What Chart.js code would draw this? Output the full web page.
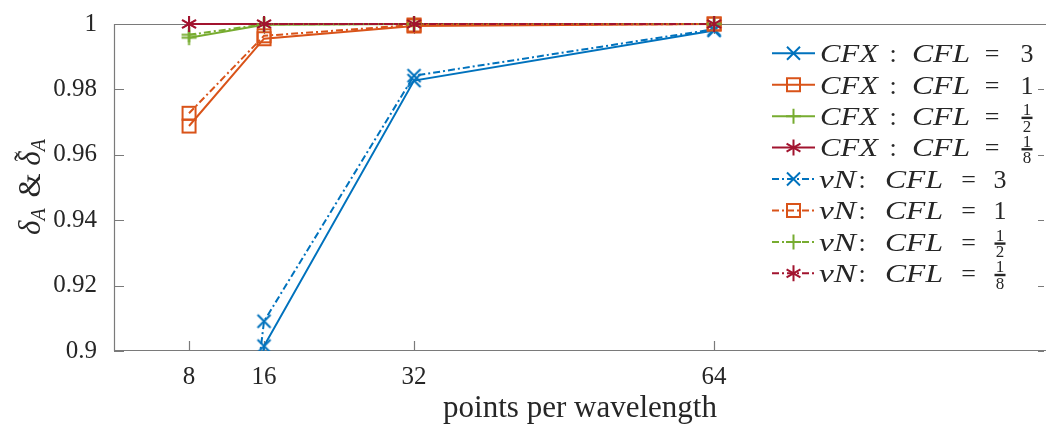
<!DOCTYPE html>
<html lang="en">
<head>
<meta charset="UTF-8">
<title>delta_A vs points per wavelength</title>
<script src="https://cdn.jsdelivr.net/npm/chart.js"></script>
<style>
  html, body { margin: 0; padding: 0; background: #fff; }
  .wrap { width: 1046px; height: 430px; }
</style>
</head>
<body>
<div class="wrap"><canvas id="deltaChart" width="1046" height="430"></canvas></div>
<script>
// points per wavelength (x)
const ppw = [8, 16, 32, 64];

// CFX runs
const cfx3      = [0.700, 0.9015, 0.9827, 0.9980];
const cfx1      = [0.9688, 0.9955, 0.9994, 1.0];
const cfxHalf   = [0.9958, 0.9998, 1.0, 1.0];
const cfxEighth = [1.0, 1.0, 1.0, 1.0];
// von Neumann analysis
const vn3      = [0.720, 0.9091, 0.9842, 0.9984];
const vn1      = [0.9727, 0.9964, 0.9997, 1.0];
const vnHalf   = [0.9967, 0.9999, 1.0, 1.0];
const vnEighth = [1.0, 1.0, 1.0, 1.0];

const yTicks = [0.9, 0.92, 0.94, 0.96, 0.98, 1];
const schemeNames = ['CFX', 'CFX', 'CFX', 'CFX', 'vN', 'vN', 'vN', 'vN'];
const cflLabels = ['3', '1', '1/2', '1/8', '3', '1', '1/2', '1/8'];
const seriesValues = [cfx3, cfx1, cfxHalf, cfxEighth, vn3, vn1, vnHalf, vnEighth];

const palette = ['#0072BD', '#D95319', '#77AC30', '#A2142F'];
const markerKinds = ['x', 'square', 'plus', 'star'];
const markerSizes = { x: 13, square: 13, plus: 15, star: 16 };
const dashDot = [7, 3, 2, 3];
const serif = '"Liberation Serif", "DejaVu Serif", serif';
const textColor = '#262626';

function strokeMarker(g, kind, cx, cy, size) {
  const r = size / 2;
  g.beginPath();
  if (kind === 'x') {
    g.moveTo(cx - r, cy - r); g.lineTo(cx + r, cy + r);
    g.moveTo(cx + r, cy - r); g.lineTo(cx - r, cy + r);
  } else if (kind === 'square') {
    g.rect(cx - r, cy - r, 2 * r, 2 * r);
  } else if (kind === 'plus') {
    g.moveTo(cx - r, cy); g.lineTo(cx + r, cy);
    g.moveTo(cx, cy - r); g.lineTo(cx, cy + r);
  } else if (kind === 'star') {
    for (let k = 0; k < 3; k++) {
      const a = Math.PI / 2 + k * Math.PI / 3;
      g.moveTo(cx + r * Math.cos(a), cy + r * Math.sin(a));
      g.lineTo(cx - r * Math.cos(a), cy - r * Math.sin(a));
    }
  }
  g.stroke();
}

function markerCanvas(kind, color) {
  const size = markerSizes[kind];
  const c = document.createElement('canvas');
  c.width = c.height = size + 4;
  const g = c.getContext('2d');
  g.strokeStyle = color;
  g.lineWidth = 2;
  strokeMarker(g, kind, c.width / 2, c.height / 2, size);
  return c;
}

const datasets = seriesValues.map((vals, i) => {
  const color = palette[i % 4];
  return {
    label: schemeNames[i] + ': CFL = ' + cflLabels[i],
    data: ppw.map((x, j) => ({ x: x, y: vals[j] })),
    borderColor: color,
    backgroundColor: color,
    borderWidth: 2,
    borderDash: i >= 4 ? dashDot : [],
    pointStyle: markerCanvas(markerKinds[i % 4], color),
    pointRadius: 7,
    tension: 0,
    fill: false,
    order: 8 - i,   // later series on top, as in the original
    clip: { left: 0, right: 0, top: 14, bottom: 0 }
  };
});

// axes box with inward ticks
const boxAxes = {
  id: 'boxAxes',
  beforeDatasetsDraw(chart) {
    const { ctx, chartArea: a, scales: { x, y } } = chart;
    ctx.save();
    ctx.strokeStyle = '#7a7a7a';
    ctx.lineWidth = 1.2;
    ctx.beginPath();
    ctx.moveTo(a.left + 0.5, a.top); ctx.lineTo(a.left + 0.5, a.bottom);
    ctx.moveTo(a.left, a.bottom - 0.5); ctx.lineTo(a.right, a.bottom - 0.5);
    ctx.moveTo(a.left, a.top + 0.5); ctx.lineTo(a.right, a.top + 0.5);
    ppw.forEach(v => {
      const px = Math.round(x.getPixelForValue(v)) + 0.5;
      ctx.moveTo(px, a.bottom); ctx.lineTo(px, a.bottom - 10);
      ctx.moveTo(px, a.top); ctx.lineTo(px, a.top + 10);
    });
    yTicks.forEach(v => {
      const py = Math.round(y.getPixelForValue(v)) + 0.5;
      ctx.moveTo(a.left, py); ctx.lineTo(a.left + 10, py);
      ctx.moveTo(a.right - 2, py); ctx.lineTo(a.right - 8, py);
    });
    ctx.stroke();
    ctx.restore();
  }
};

// y title: delta_A & tilde-delta_A, rotated
const yTitle = {
  id: 'yTitle',
  afterDraw(chart) {
    const { ctx } = chart;
    const big = 'italic 31px ' + serif, sub = 'italic 20px ' + serif, up = '31px ' + serif;
    const parts = [
      { t: 'δ', f: big, dy: 0 },
      { t: 'A', f: sub, dy: 5, after: 3 },
      { t: ' & ', f: up, dy: 0 },
      { t: 'δ', f: big, dy: 0, tilde: true },
      { t: 'A', f: sub, dy: 5 }
    ];
    ctx.save();
    let total = 0;
    parts.forEach(p => { ctx.font = p.f; p.w = ctx.measureText(p.t).width + (p.after || 0); total += p.w; });
    ctx.translate(40, 187);
    ctx.rotate(-Math.PI / 2);
    ctx.fillStyle = textColor;
    ctx.textBaseline = 'alphabetic';
    let cx = -total / 2;
    parts.forEach(p => {
      ctx.font = p.f;
      ctx.fillText(p.t, cx, p.dy);
      if (p.tilde) {
        ctx.font = '28px ' + serif;
        const tw = ctx.measureText('˜').width;
        ctx.fillText('˜', cx + p.w / 2 - tw / 2 + 2, -7);
      }
      cx += p.w;
    });
    ctx.restore();
  }
};

// legend with fractions
const fracLegend = {
  id: 'fracLegend',
  afterDraw(chart) {
    const { ctx } = chart;
    const font = 'italic 26px ' + serif, upright = '26px ' + serif;
    ctx.save();
    ctx.fillStyle = textColor;
    ctx.textBaseline = 'alphabetic';
    function fitText(txt, x, y, w) {
      const mw = ctx.measureText(txt).width;
      ctx.save(); ctx.translate(x, y); ctx.scale(w / mw, 1); ctx.fillText(txt, 0, 0); ctx.restore();
    }
    seriesValues.forEach((_, i) => {
      const y = 53.3 + i * 31.43;
      const color = palette[i % 4];
      const isVN = i >= 4;
      ctx.strokeStyle = color;
      ctx.lineWidth = 2;
      ctx.setLineDash(isVN ? dashDot : []);
      ctx.beginPath(); ctx.moveTo(772, y); ctx.lineTo(815, y); ctx.stroke();
      ctx.setLineDash([]);
      strokeMarker(ctx, markerKinds[i % 4], 793.5, y, markerSizes[markerKinds[i % 4]]);

      const base = y + 8.8;
      const pos = isVN
        ? { name: 819, nameW: 37, colon: 862, cfl: 885, eq: 968.5, val: 1000 }
        : { name: 820, nameW: 58, colon: 893, cfl: 912, eq: 992, val: 1027 };
      ctx.fillStyle = textColor;
      ctx.font = font;
      fitText(schemeNames[i], pos.name, base, pos.nameW);
      fitText('CFL', pos.cfl, base, 58);
      ctx.font = upright;
      ctx.textAlign = 'center';
      ctx.fillText(':', pos.colon, base);
      ctx.fillText('=', pos.eq, base);
      const lab = cflLabels[i];
      if (lab.indexOf('/') < 0) {
        ctx.fillText(lab, pos.val, base);
      } else {
        const [num, den] = lab.split('/');
        const barY = y + 1.5;
        ctx.font = '17px ' + serif;
        ctx.fillText(num, pos.val, barY - 2.5);
        ctx.fillText(den, pos.val, barY + 14);
        ctx.fillRect(pos.val - 5.5, barY - 1, 11, 2.4);
      }
      ctx.textAlign = 'left';
    });
    ctx.restore();
  }
};

new Chart(document.getElementById('deltaChart'), {
  type: 'line',
  data: { datasets: datasets },
  options: {
    responsive: false,
    animation: false,
    devicePixelRatio: 1,
    layout: { autoPadding: false, padding: { top: 21, right: 0, left: 0, bottom: 0 } },
    plugins: {
      legend: { display: false },
      tooltip: { enabled: false }
    },
    scales: {
      x: {
        type: 'linear',
        min: 0,
        max: 99.4,
        grid: { display: false },
        border: { display: false },
        afterBuildTicks: s => { s.ticks = ppw.map(v => ({ value: v })); },
        afterFit: s => { s.height = 79; },
        ticks: {
          autoSkip: false, maxRotation: 0, padding: 3,
          color: textColor,
          font: { family: serif, size: 25 }
        },
        title: {
          display: true,
          text: 'points per wavelength',
          color: textColor,
          font: { family: serif, size: 31 },
          padding: { top: 0, bottom: 3 }
        }
      },
      y: {
        min: 0.9,
        max: 1,
        grid: { display: false },
        border: { display: false },
        afterBuildTicks: s => { s.ticks = yTicks.map(v => ({ value: v })); },
        afterFit: s => { s.width = 114; },
        ticks: {
          padding: 9,
          color: textColor,
          font: { family: serif, size: 25 },
          callback: v => String(+v.toFixed(2))
        }
      }
    }
  },
  plugins: [boxAxes, yTitle, fracLegend]
});
</script>
</body>
</html>
